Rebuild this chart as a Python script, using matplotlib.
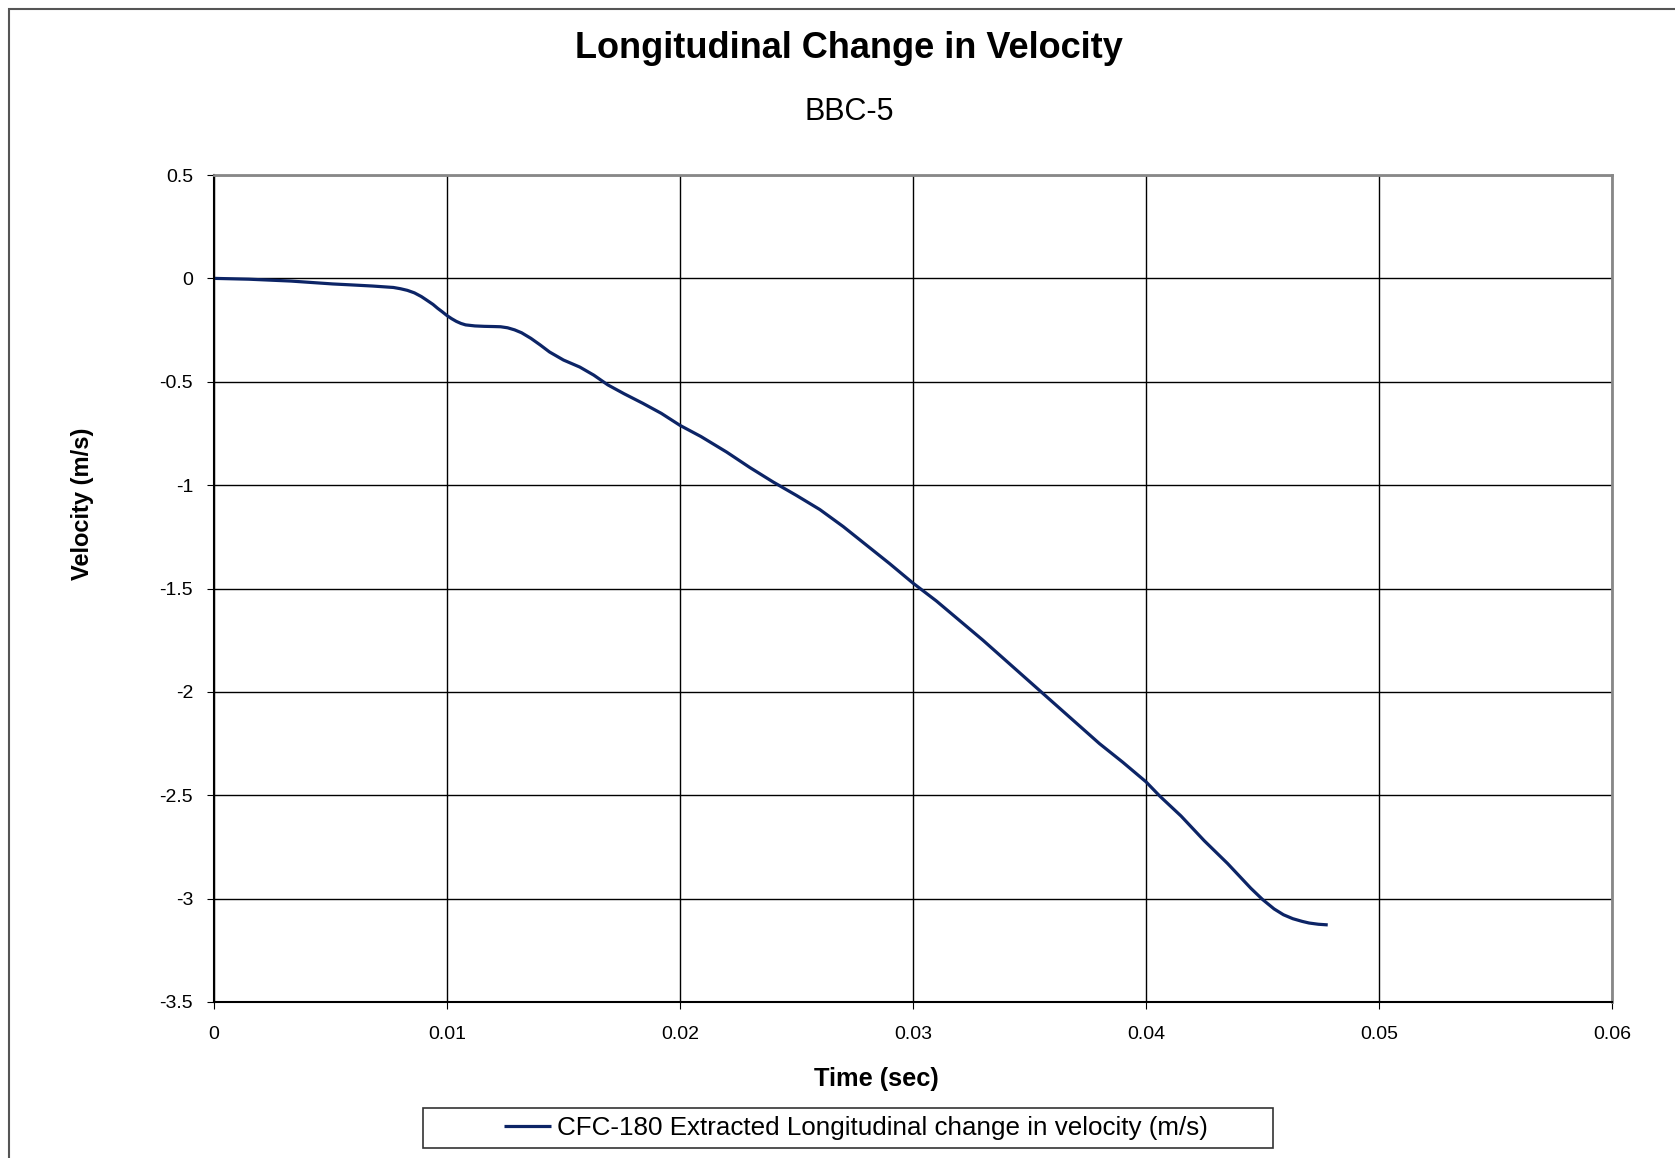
import matplotlib
matplotlib.use("Agg")
import matplotlib.pyplot as plt
from matplotlib.patches import Rectangle

plt.rcParams['font.family'] = ['Liberation Sans', 'DejaVu Sans']

time_s = [0.0, 0.0015, 0.0033, 0.0051, 0.0058, 0.0068, 0.0077, 0.0080, 0.0083, 0.0086,
          0.0089, 0.0091, 0.0094, 0.0096, 0.0098, 0.0100, 0.0102, 0.0104, 0.0106,
          0.0108, 0.0112, 0.0116, 0.0120, 0.0123, 0.0126, 0.0129, 0.0132, 0.0136,
          0.0140, 0.0144, 0.0150, 0.0157, 0.0163, 0.0169, 0.0176, 0.0184, 0.0192,
          0.0200, 0.0209, 0.0220, 0.0230, 0.0240, 0.0250, 0.0260, 0.0270, 0.0280,
          0.0290, 0.0300, 0.0310, 0.0320, 0.0330, 0.0340, 0.0350, 0.0360, 0.0370,
          0.0380, 0.0390, 0.0400, 0.0406, 0.0415, 0.0425, 0.0435, 0.0445, 0.0450,
          0.0455, 0.0459, 0.0463, 0.0467, 0.0470, 0.0474, 0.0478]
velocity = [0.0, -0.004, -0.013, -0.027, -0.031, -0.037, -0.044, -0.050, -0.058, -0.070,
            -0.088, -0.103, -0.126, -0.145, -0.162, -0.180, -0.195, -0.208, -0.218,
            -0.225, -0.230, -0.232, -0.233, -0.234, -0.239, -0.249, -0.263, -0.290,
            -0.322, -0.356, -0.395, -0.429, -0.468, -0.515, -0.558, -0.604, -0.653,
            -0.711, -0.765, -0.840, -0.915, -0.985, -1.050, -1.118, -1.200, -1.290,
            -1.380, -1.474, -1.560, -1.655, -1.750, -1.850, -1.950, -2.050, -2.150,
            -2.250, -2.340, -2.435, -2.505, -2.600, -2.720, -2.830, -2.950, -3.004,
            -3.050, -3.078, -3.097, -3.110, -3.118, -3.124, -3.127]

x_ticks = [0, 0.01, 0.02, 0.03, 0.04, 0.05, 0.06]
x_tick_labels = ["0", "0.01", "0.02", "0.03", "0.04", "0.05", "0.06"]
y_ticks = [0.5, 0, -0.5, -1, -1.5, -2, -2.5, -3, -3.5]
y_tick_labels = ["0.5", "0", "-0.5", "-1", "-1.5", "-2", "-2.5", "-3", "-3.5"]

W, H = 1675, 1158
fig = plt.figure(figsize=(W / 100, H / 100), dpi=100)
ax = fig.add_axes([214 / W, 1 - 1002 / H, (1612 - 214) / W, (1002 - 175) / H])

line, = ax.plot(time_s, velocity, color='#0c2466', linewidth=2.3,
                solid_joinstyle='round', solid_capstyle='butt',
                label='CFC-180 Extracted Longitudinal change in velocity (m/s)')

ax.set_xlim(0, 0.06)
ax.set_ylim(-3.5, 0.5)
ax.set_xticks(x_ticks)
ax.set_xticklabels(x_tick_labels)
ax.set_yticks(y_ticks)
ax.set_yticklabels(y_tick_labels)
ax.tick_params(axis='both', labelsize=14, direction='out', length=5, color='black')
ax.tick_params(axis='x', pad=12)
ax.tick_params(axis='y', pad=10)
ax.grid(True, color='black', linewidth=1.0)
ax.set_axisbelow(True)
for side in ['top', 'right']:
    ax.spines[side].set_color('#888888')
    ax.spines[side].set_linewidth(2.0)
for side in ['left', 'bottom']:
    ax.spines[side].set_color('black')
    ax.spines[side].set_linewidth(1.5)

fig.text(0.507, 0.958, 'Longitudinal Change in Velocity', ha='center', va='center',
         fontsize=26, fontweight='bold')
fig.text(0.507, 0.903, 'BBC-5', ha='center', va='center', fontsize=22)
fig.text(876 / W, 1 - 1079 / H, 'Time (sec)', ha='center', va='center',
         fontsize=18.3, fontweight='bold')
fig.text(82 / W, 1 - 504 / H, 'Velocity (m/s)', ha='center', va='center',
         fontsize=17, fontweight='bold', rotation=90)

leg = fig.legend(handles=[line], loc='center', bbox_to_anchor=(856 / W, 1 - 1128 / H),
                 fontsize=18.7, frameon=False, handlelength=1.8, handletextpad=0.25,
                 borderpad=0.0)

fig.patches.append(Rectangle((423 / W, 1 - 1148 / H), (1273 - 423) / W, 40 / H,
                             transform=fig.transFigure, fill=False,
                             edgecolor='#333333', linewidth=1.2))

fig.patches.append(Rectangle((9 / W, -0.01), 1.2, 1 - 9 / H + 0.01,
                             transform=fig.transFigure, fill=False,
                             edgecolor='#555555', linewidth=1.5))

fig.savefig('out.png', dpi=100)
